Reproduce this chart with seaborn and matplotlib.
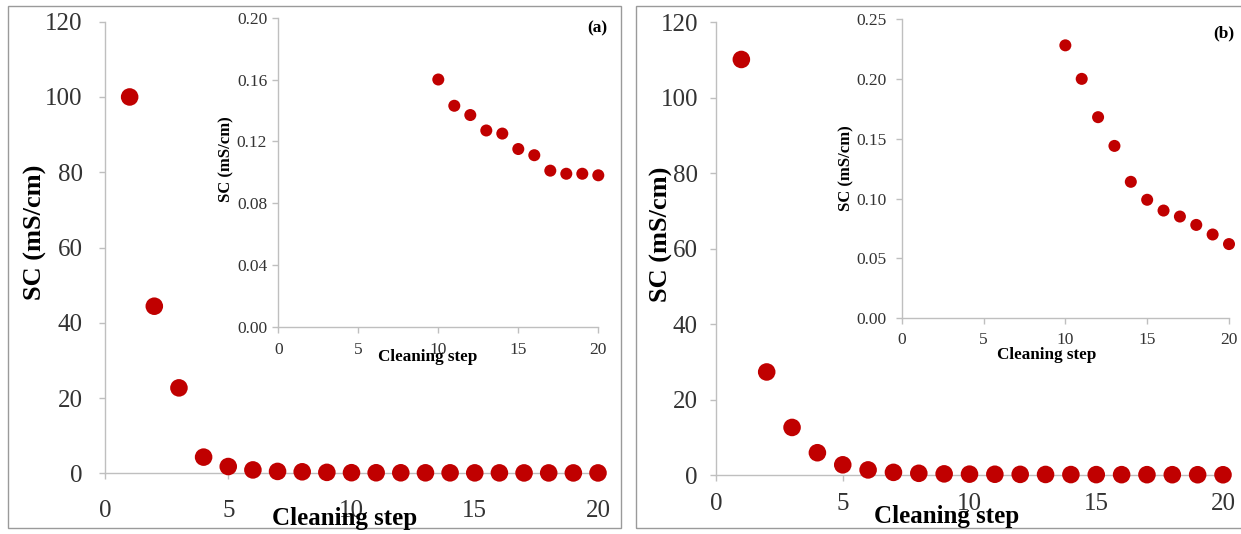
import matplotlib
matplotlib.use("Agg")
import matplotlib.pyplot as plt
import seaborn as sns
import pandas as pd
from matplotlib.patches import Rectangle
from matplotlib.ticker import FormatStrFormatter, MultipleLocator

# ---------------- data ----------------
early_steps = [1, 2, 3, 4, 5, 6, 7, 8, 9]
late_steps = [10, 11, 12, 13, 14, 15, 16, 17, 18, 19, 20]

sc_a_early = [100.0, 44.4, 22.7, 4.3, 1.8, 0.9, 0.5, 0.4, 0.25]
sc_a_late = [0.160, 0.143, 0.137, 0.127, 0.125, 0.115, 0.111, 0.101, 0.099, 0.099, 0.098]

sc_b_early = [110.1, 27.3, 12.6, 5.9, 2.7, 1.35, 0.7, 0.45, 0.3]
sc_b_late = [0.228, 0.200, 0.168, 0.144, 0.114, 0.099, 0.090, 0.085, 0.078, 0.070, 0.062]

panel_labels = ["(a)", "(b)"]
xlabel = "Cleaning step"
ylabel = "SC (mS/cm)"

# ---------------- style ----------------
sns.set_theme(style="white")
plt.rcParams["font.family"] = ["Liberation Serif", "DejaVu Serif"]

RED = "#C00000"
SPINE = "#BFBFBF"
TICKC = "#333333"
W, H = 1241, 534

fig = plt.figure(figsize=(12.41, 5.34), dpi=100)


def fx(px):
    return px / W


def fy(py):
    return 1 - py / H


def rect(x0, y0, x1, y1):
    # pixel box (left, top, right, bottom) -> axes rect
    return [fx(x0), fy(y1), fx(x1) - fx(x0), fy(y0) - fy(y1)]


# panel frames
for (x0, x1) in [(8, 621), (636, 1246)]:
    fig.patches.append(Rectangle((fx(x0), fy(528)), fx(x1) - fx(x0), fy(5.5) - fy(528),
                                 transform=fig.transFigure, fill=False,
                                 edgecolor="#9A9A9A", linewidth=1.0, zorder=0))


def style_axes(ax, xlim, ylim, ystep, fmt, fs, ypad, xpad):
    ax.set_xlim(*xlim)
    ax.set_ylim(*ylim)
    ax.xaxis.set_major_locator(MultipleLocator(5))
    ax.yaxis.set_major_locator(MultipleLocator(ystep))
    ax.yaxis.set_major_formatter(FormatStrFormatter(fmt))
    for s in ["top", "right"]:
        ax.spines[s].set_visible(False)
    for s in ["left", "bottom"]:
        ax.spines[s].set_color(SPINE)
        ax.spines[s].set_linewidth(1.0)
    ax.tick_params(axis="both", which="major", direction="out", length=4,
                   width=1.0, color=SPINE, labelcolor=TICKC, labelsize=fs,
                   left=True, bottom=True)
    ax.tick_params(axis="y", pad=ypad)
    ax.tick_params(axis="x", pad=xpad)
    ax.set_xlabel("")
    ax.set_ylabel("")
    ax.patch.set_alpha(0)


configs = [
    dict(main=rect(105, 21.7, 598, 473.3), inset=rect(278.3, 17.7, 598.3, 326.7),
         early=sc_a_early, late=sc_a_late, ylim_in=(0, 0.20), ystep_in=0.04,
         main_ypad=12, main_xpad=15, in_ypad=4, in_xpad=7,
         ylab_main=(35, 232), xlab_main=(345, 518), ylab_in=(226.5, 159),
         xlab_in=(428, 357), plabel=(607, 28)),
    dict(main=rect(716, 22.1, 1223, 475), inset=rect(901.7, 19, 1229, 318.3),
         early=sc_b_early, late=sc_b_late, ylim_in=(0, 0.25), ystep_in=0.05,
         main_ypad=9, main_xpad=9, in_ypad=7, in_xpad=6,
         ylab_main=(661.5, 234), xlab_main=(947, 517), ylab_in=(846.5, 168),
         xlab_in=(1047, 355), plabel=(1234, 33)),
]

for cfg, plabel in zip(configs, panel_labels):
    df_main = pd.DataFrame({"step": early_steps + late_steps,
                            "sc": cfg["early"] + cfg["late"]})
    df_in = pd.DataFrame({"step": late_steps, "sc": cfg["late"]})

    ax = fig.add_axes(cfg["main"])
    sns.scatterplot(data=df_main, x="step", y="sc", ax=ax, color=RED, s=160,
                    edgecolor="none", clip_on=False, zorder=3)
    style_axes(ax, (0, 20), (0, 120), 20, "%d", 18, cfg["main_ypad"], cfg["main_xpad"])

    axi = fig.add_axes(cfg["inset"])
    sns.scatterplot(data=df_in, x="step", y="sc", ax=axi, color=RED, s=75,
                    edgecolor="none", clip_on=False, zorder=3)
    style_axes(axi, (0, 20), cfg["ylim_in"], cfg["ystep_in"], "%.2f", 12.5,
               cfg["in_ypad"], cfg["in_xpad"])

    x, y = cfg["ylab_main"]
    fig.text(fx(x), fy(y), ylabel, rotation=90, ha="center", va="center",
             fontsize=19, fontweight="bold", color="black")
    x, y = cfg["xlab_main"]
    fig.text(fx(x), fy(y), xlabel, ha="center", va="center",
             fontsize=18, fontweight="bold", color="black")
    x, y = cfg["ylab_in"]
    fig.text(fx(x), fy(y), ylabel, rotation=90, ha="center", va="center",
             fontsize=12, fontweight="bold", color="black")
    x, y = cfg["xlab_in"]
    fig.text(fx(x), fy(y), xlabel, ha="center", va="center",
             fontsize=12.3, fontweight="bold", color="black")
    x, y = cfg["plabel"]
    fig.text(fx(x), fy(y), plabel, ha="right", va="center",
             fontsize=12.5, fontweight="bold", color="black")

fig.savefig("out.png", dpi=100, facecolor="white")
